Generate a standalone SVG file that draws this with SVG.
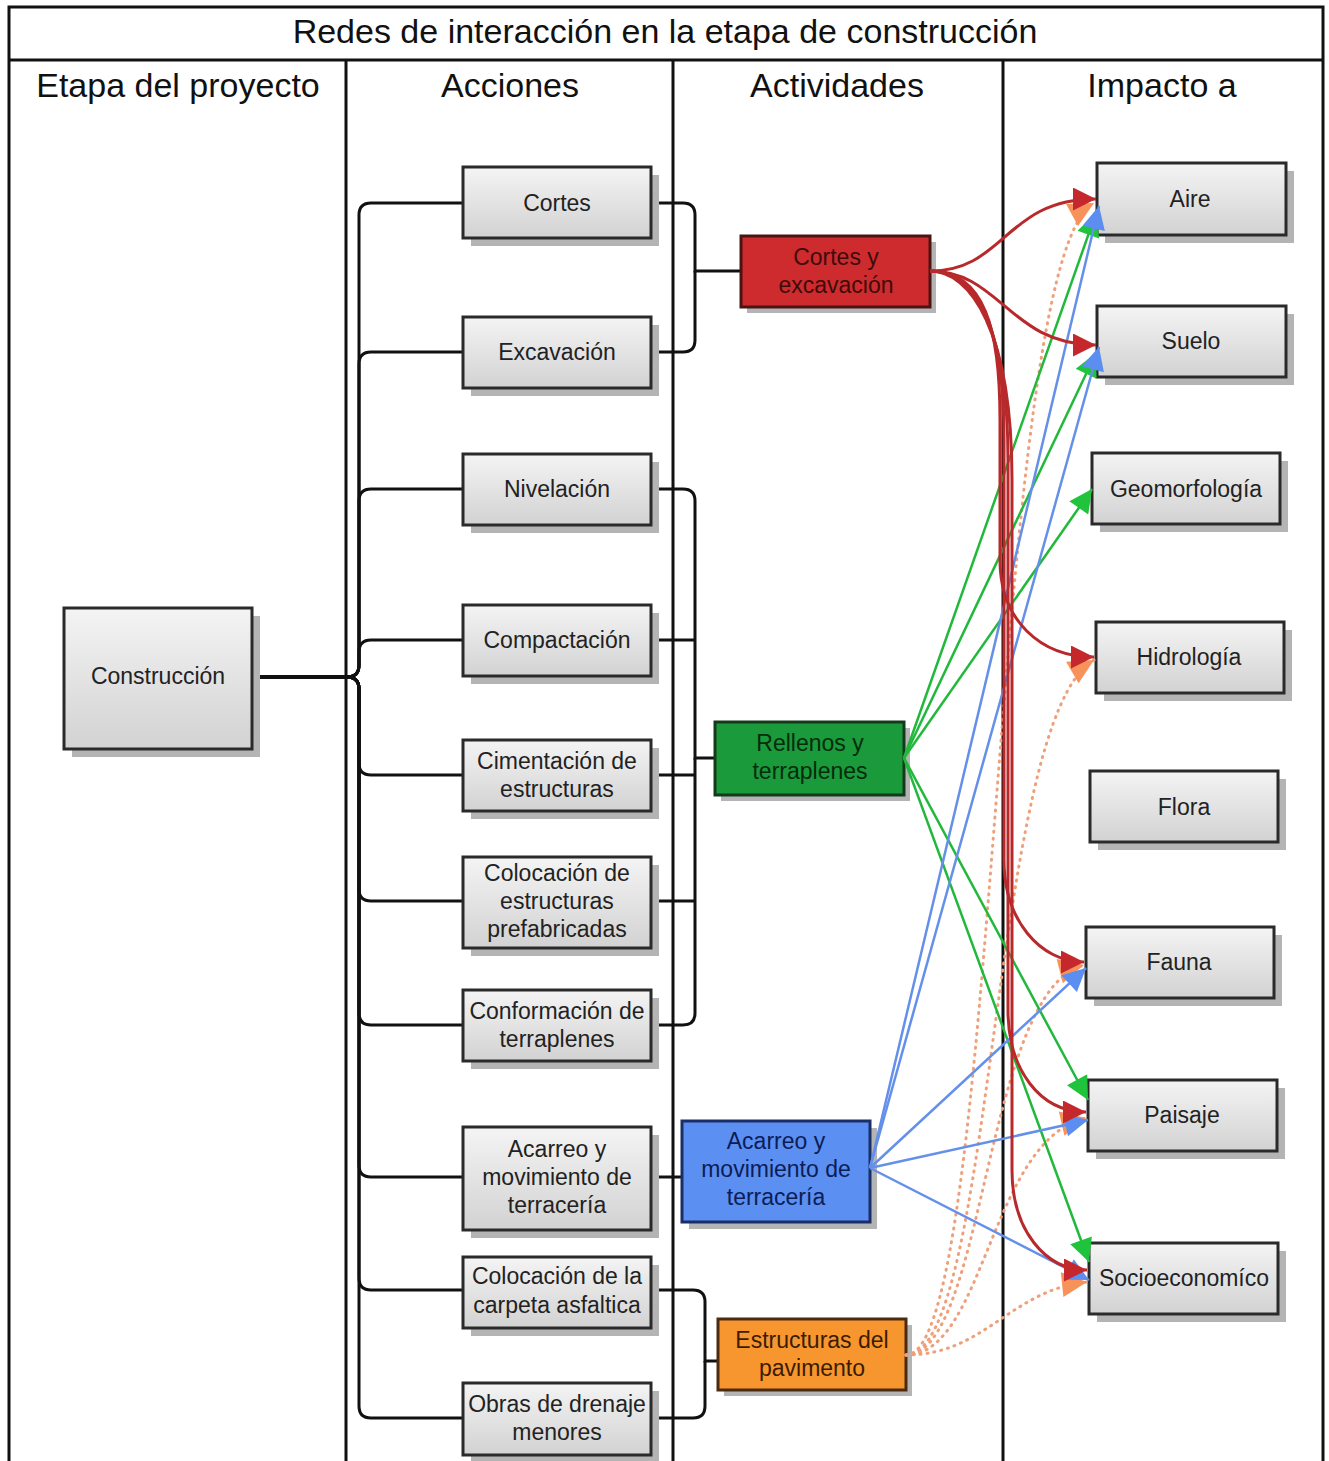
<svg xmlns="http://www.w3.org/2000/svg" width="1329" height="1461" viewBox="0 0 1329 1461">
  <defs>
    <linearGradient id="gray" x1="0" y1="0" x2="0" y2="1">
      <stop offset="0" stop-color="#f4f4f4"/>
      <stop offset="1" stop-color="#d2d2d2"/>
    </linearGradient>
    <marker id="ah-red" viewBox="0 0 10 10" refX="10" refY="5" markerWidth="25" markerHeight="23" markerUnits="userSpaceOnUse" orient="auto">
      <path d="M0,0 L10,5 L0,10 z" fill="#c4282c"/>
    </marker>
    <marker id="ah-green" viewBox="0 0 10 10" refX="10" refY="5" markerWidth="25" markerHeight="23" markerUnits="userSpaceOnUse" orient="auto">
      <path d="M0,0 L10,5 L0,10 z" fill="#1fc43c"/>
    </marker>
    <marker id="ah-blue" viewBox="0 0 10 10" refX="10" refY="5" markerWidth="25" markerHeight="23" markerUnits="userSpaceOnUse" orient="auto">
      <path d="M0,0 L10,5 L0,10 z" fill="#5b8ef0"/>
    </marker>
    <marker id="ah-orange" viewBox="0 0 10 10" refX="10" refY="5" markerWidth="27" markerHeight="25" markerUnits="userSpaceOnUse" orient="auto">
      <path d="M0,0 L10,5 L0,10 z" fill="#f7925a"/>
    </marker>
  </defs>
  <style>
    text { font-family: "Liberation Sans", Arial, sans-serif; text-anchor: middle; }
    .head { font-size: 34px; fill: #111; }
    .lbl { font-size: 23px; fill: #222; }
    .frame { fill: none; stroke: #111; stroke-width: 3; }
    .shadow { fill: #b4b4b4; }
    .box { fill: url(#gray); stroke: #2a2a2a; stroke-width: 3; }
    .conn path { fill: none; stroke: #111; stroke-width: 3; }
    .red path { fill: none; stroke: #b8292b; stroke-width: 3; marker-end: url(#ah-red); }
    .green path { fill: none; stroke: #22b83c; stroke-width: 2.5; marker-end: url(#ah-green); }
    .blue path { fill: none; stroke: #6490ea; stroke-width: 2.5; marker-end: url(#ah-blue); }
    .orange path { fill: none; stroke: #eea07a; stroke-width: 3; stroke-dasharray: 1 6; stroke-linecap: round; marker-end: url(#ah-orange); }
  </style>

  <rect width="1329" height="1461" fill="#fff"/>

  <!-- swimlane frame -->
  <g id="frame" class="frame">
    <path d="M9,1461 V7 H1323 V1461"/>
    <path d="M9,60 H1323"/>
    <path d="M346,60 V1461 M673,60 V1461 M1003,60 V1461"/>
  </g>
  <g id="headings">
    <text class="head" x="665" y="43">Redes de interacción en la etapa de construcción</text>
    <text class="head" x="178" y="97">Etapa del proyecto</text>
    <text class="head" x="510" y="97">Acciones</text>
    <text class="head" x="837" y="97">Actividades</text>
    <text class="head" x="1162" y="97">Impacto a</text>
  </g>

  <!-- black tree connectors -->
  <g id="connectors" class="conn">
    <path d="M252,677 H347 Q359,677 359,665 V215 Q359,203 371,203 H463"/>
    <path d="M252,677 H347 Q359,677 359,665 V364 Q359,352 371,352 H463"/>
    <path d="M252,677 H347 Q359,677 359,665 V501 Q359,489 371,489 H463"/>
    <path d="M252,677 H347 Q359,677 359,665 V652 Q359,640 371,640 H463"/>
    <path d="M252,677 H347 Q359,677 359,689 V763 Q359,775 371,775 H463"/>
    <path d="M252,677 H347 Q359,677 359,689 V889 Q359,901 371,901 H463"/>
    <path d="M252,677 H347 Q359,677 359,689 V1013 Q359,1025 371,1025 H463"/>
    <path d="M252,677 H347 Q359,677 359,689 V1165 Q359,1177 371,1177 H463"/>
    <path d="M252,677 H347 Q359,677 359,689 V1278 Q359,1290 371,1290 H463"/>
    <path d="M252,677 H347 Q359,677 359,689 V1406 Q359,1418 371,1418 H463"/>
    <path d="M651,203 H683 Q695,203 695,215 V271 H741"/>
    <path d="M651,352 H683 Q695,352 695,340 V271"/>
    <path d="M651,489 H683 Q695,489 695,501 V758 H715"/>
    <path d="M651,640 H695"/>
    <path d="M651,775 H695"/>
    <path d="M651,901 H695"/>
    <path d="M651,1025 H683 Q695,1025 695,1013 V758"/>
    <path d="M651,1177 H682"/>
    <path d="M651,1290 H693 Q705,1290 705,1302 V1361 H718"/>
    <path d="M651,1418 H693 Q705,1418 705,1406 V1361"/>
  </g>

  <!-- project stage -->
  <g id="n-construccion">
    <rect class="shadow" x="72" y="616" width="188" height="141"/>
    <rect class="box" x="64" y="608" width="188" height="141"/>
    <text class="lbl" x="158" y="684">Construcción</text>
  </g>

  <!-- actions -->
  <g id="n-cortes">
    <rect class="shadow" x="471" y="175" width="188" height="71"/>
    <rect class="box" x="463" y="167" width="188" height="71"/>
    <text class="lbl" x="557" y="211">Cortes</text>
  </g>
  <g id="n-excavacion">
    <rect class="shadow" x="471" y="325" width="188" height="71"/>
    <rect class="box" x="463" y="317" width="188" height="71"/>
    <text class="lbl" x="557" y="360">Excavación</text>
  </g>
  <g id="n-nivelacion">
    <rect class="shadow" x="471" y="462" width="188" height="71"/>
    <rect class="box" x="463" y="454" width="188" height="71"/>
    <text class="lbl" x="557" y="497">Nivelación</text>
  </g>
  <g id="n-compactacion">
    <rect class="shadow" x="471" y="613" width="188" height="71"/>
    <rect class="box" x="463" y="605" width="188" height="71"/>
    <text class="lbl" x="557" y="648">Compactación</text>
  </g>
  <g id="n-cimentacion">
    <rect class="shadow" x="471" y="748" width="188" height="71"/>
    <rect class="box" x="463" y="740" width="188" height="71"/>
    <text class="lbl" x="557" y="769">Cimentación de<tspan x="557" dy="28">estructuras</tspan></text>
  </g>
  <g id="n-prefabricadas">
    <rect class="shadow" x="471" y="865" width="188" height="91"/>
    <rect class="box" x="463" y="857" width="188" height="91"/>
    <text class="lbl" x="557" y="881">Colocación de<tspan x="557" dy="28">estructuras</tspan><tspan x="557" dy="28">prefabricadas</tspan></text>
  </g>
  <g id="n-conformacion">
    <rect class="shadow" x="471" y="998" width="188" height="71"/>
    <rect class="box" x="463" y="990" width="188" height="71"/>
    <text class="lbl" x="557" y="1019">Conformación de<tspan x="557" dy="28">terraplenes</tspan></text>
  </g>
  <g id="n-acarreo">
    <rect class="shadow" x="471" y="1135" width="188" height="103"/>
    <rect class="box" x="463" y="1127" width="188" height="103"/>
    <text class="lbl" x="557" y="1157">Acarreo y<tspan x="557" dy="28">movimiento de</tspan><tspan x="557" dy="28">terracería</tspan></text>
  </g>
  <g id="n-carpeta">
    <rect class="shadow" x="471" y="1265" width="188" height="71"/>
    <rect class="box" x="463" y="1257" width="188" height="71"/>
    <text class="lbl" x="557" y="1284">Colocación de la<tspan x="557" dy="29">carpeta asfaltica</tspan></text>
  </g>
  <g id="n-drenaje">
    <rect class="shadow" x="471" y="1391" width="188" height="72"/>
    <rect class="box" x="463" y="1383" width="188" height="72"/>
    <text class="lbl" x="557" y="1412">Obras de drenaje<tspan x="557" dy="28">menores</tspan></text>
  </g>

  <!-- activities -->
  <g id="a-cortes-excavacion">
    <rect class="shadow" x="747" y="242" width="189" height="71"/>
    <rect x="741" y="236" width="189" height="71" fill="#cd2b2d" stroke="#4a1414" stroke-width="3"/>
    <text class="lbl" x="836" y="265" style="fill:#3e0c0c">Cortes y<tspan x="836" dy="28">excavación</tspan></text>
  </g>
  <g id="a-rellenos">
    <rect class="shadow" x="721" y="728" width="189" height="73"/>
    <rect x="715" y="722" width="189" height="73" fill="#1a9a3a" stroke="#143a1c" stroke-width="3"/>
    <text class="lbl" x="810" y="751" style="fill:#072c0d">Rellenos y<tspan x="810" dy="28">terraplenes</tspan></text>
  </g>
  <g id="a-acarreo">
    <rect class="shadow" x="689" y="1128" width="188" height="101"/>
    <rect x="682" y="1121" width="188" height="101" fill="#5b8ff2" stroke="#1b2f66" stroke-width="3"/>
    <text class="lbl" x="776" y="1149" style="fill:#0d1d55">Acarreo y<tspan x="776" dy="28">movimiento de</tspan><tspan x="776" dy="28">terracería</tspan></text>
  </g>
  <g id="a-pavimento">
    <rect class="shadow" x="724" y="1325" width="188" height="71"/>
    <rect x="718" y="1319" width="188" height="71" fill="#f7962f" stroke="#4a2a10" stroke-width="3"/>
    <text class="lbl" x="812" y="1348" style="fill:#3c1c00">Estructuras del<tspan x="812" dy="28">pavimento</tspan></text>
  </g>

  <!-- impacted factors -->
  <g id="i-aire">
    <rect class="shadow" x="1105" y="171" width="189" height="72"/>
    <rect class="box" x="1097" y="163" width="189" height="72"/>
    <text class="lbl" x="1190" y="207">Aire</text>
  </g>
  <g id="i-suelo">
    <rect class="shadow" x="1105" y="314" width="189" height="71"/>
    <rect class="box" x="1097" y="306" width="189" height="71"/>
    <text class="lbl" x="1191" y="349">Suelo</text>
  </g>
  <g id="i-geomorfologia">
    <rect class="shadow" x="1100" y="461" width="188" height="71"/>
    <rect class="box" x="1092" y="453" width="188" height="71"/>
    <text class="lbl" x="1186" y="497">Geomorfología</text>
  </g>
  <g id="i-hidrologia">
    <rect class="shadow" x="1104" y="630" width="188" height="71"/>
    <rect class="box" x="1096" y="622" width="188" height="71"/>
    <text class="lbl" x="1189" y="665">Hidrología</text>
  </g>
  <g id="i-flora">
    <rect class="shadow" x="1098" y="779" width="188" height="71"/>
    <rect class="box" x="1090" y="771" width="188" height="71"/>
    <text class="lbl" x="1184" y="815">Flora</text>
  </g>
  <g id="i-fauna">
    <rect class="shadow" x="1094" y="935" width="188" height="71"/>
    <rect class="box" x="1086" y="927" width="188" height="71"/>
    <text class="lbl" x="1179" y="970">Fauna</text>
  </g>
  <g id="i-paisaje">
    <rect class="shadow" x="1096" y="1088" width="189" height="71"/>
    <rect class="box" x="1088" y="1080" width="189" height="71"/>
    <text class="lbl" x="1182" y="1123">Paisaje</text>
  </g>
  <g id="i-socioeconomico">
    <rect class="shadow" x="1097" y="1251" width="189" height="71"/>
    <rect class="box" x="1089" y="1243" width="189" height="71"/>
    <text class="lbl" x="1184" y="1286">Socioeconomíco</text>
  </g>

  <!-- impact links -->
  <g id="links">
    <g class="orange">
      <path d="M906,1355 C1000,1355 990,260 1094,203"/>
      <path d="M906,1355 C995,1355 990,720 1094,660"/>
      <path d="M906,1355 C985,1355 985,990 1084,965"/>
      <path d="M906,1355 C985,1355 990,1140 1086,1118"/>
      <path d="M906,1355 C985,1355 1010,1290 1087,1282"/>
    </g>
    <g class="green">
      <path d="M904,758 L1096,213"/>
      <path d="M904,758 L1096,353"/>
      <path d="M904,758 L1092,489"/>
      <path d="M904,758 L1088,1100"/>
      <path d="M904,758 L1089,1262"/>
    </g>
    <g class="blue">
      <path d="M870,1168 L1099,206"/>
      <path d="M870,1168 L1099,347"/>
      <path d="M870,1168 L1086,968"/>
      <path d="M870,1168 L1088,1120"/>
      <path d="M870,1168 L1089,1280"/>
    </g>
    <g class="red">
      <path d="M930,271 C1005,271 1005,199 1096,199"/>
      <path d="M930,271 C1000,271 1010,345 1096,345"/>
      <path d="M930,271 C985,271 1000,330 1000,420 L1000,560 C1000,620 1040,657 1094,657"/>
      <path d="M930,271 C980,271 1004,330 1004,440 L1004,860 C1004,920 1040,962 1084,962"/>
      <path d="M930,271 C975,271 1008,330 1008,460 L1008,1010 C1008,1070 1040,1112 1086,1112"/>
      <path d="M930,271 C970,271 1012,330 1012,480 L1012,1170 C1012,1230 1045,1270 1087,1270"/>
    </g>
  </g>
</svg>
